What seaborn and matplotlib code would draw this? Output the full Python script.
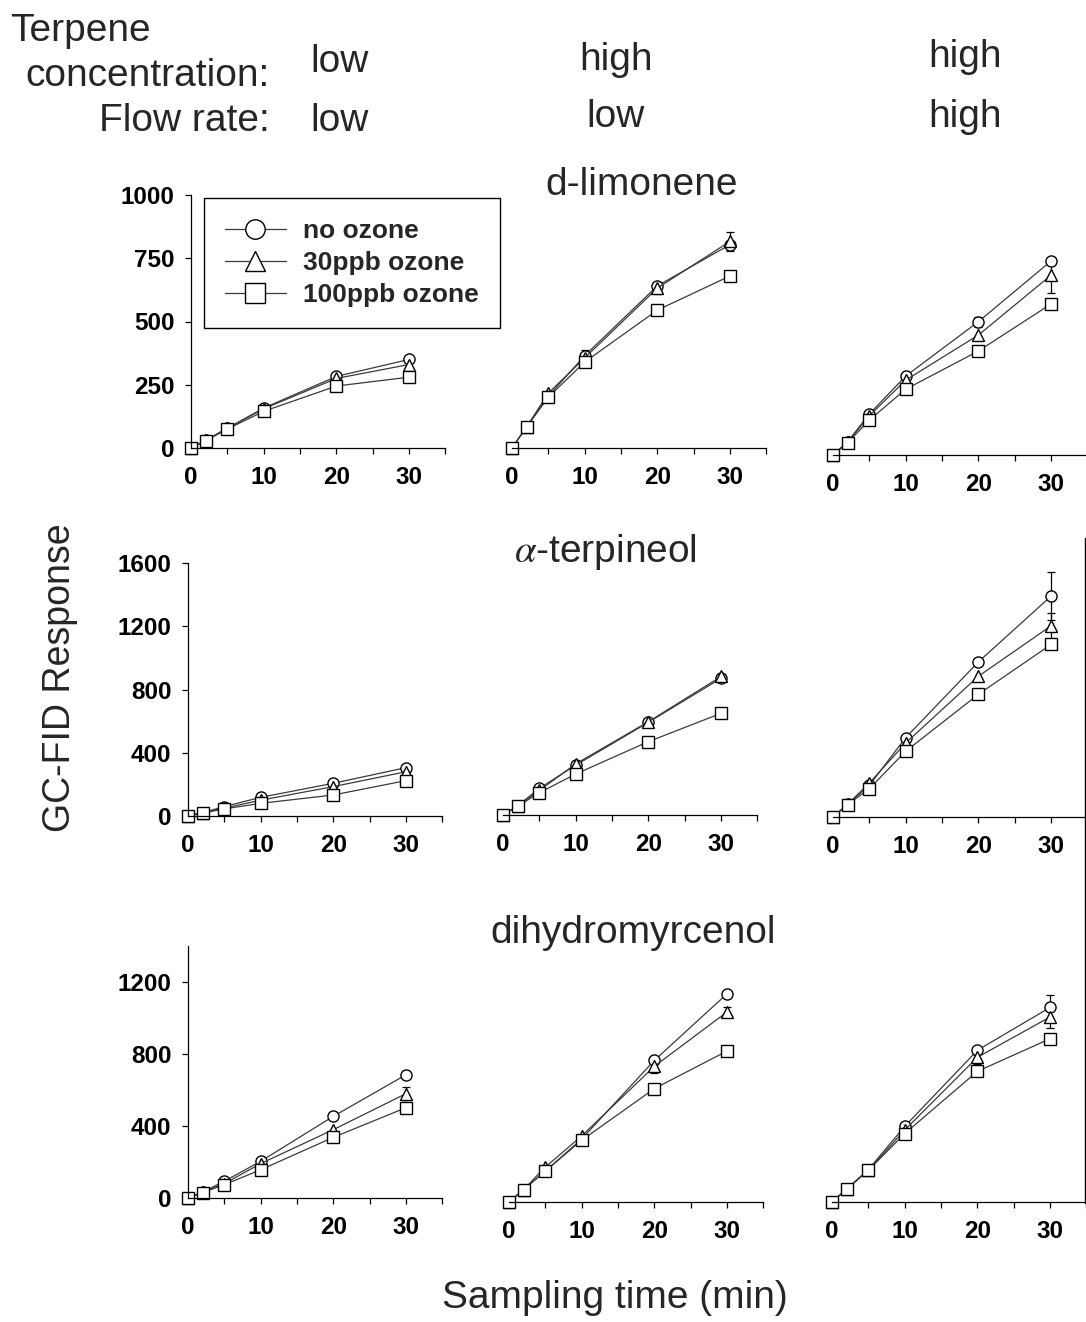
import matplotlib
matplotlib.use("Agg")
import matplotlib.pyplot as plt
from matplotlib.lines import Line2D
import pandas as pd
import seaborn as sns

# values
times = [0, 2, 5, 10, 20, 30]
series = ["no ozone", "30ppb ozone", "100ppb ozone"]
compounds = ["d-limonene", "alpha-terpineol", "dihydromyrcenol"]
conc_levels = ["low", "high", "high"]
flow_levels = ["low", "low", "high"]

# one list per condition column (low/low, high/low, high/high)
lim_none = [[0, 30, 78, 158, 283, 350], [0, 83, 205, 365, 641, 804], [0, 52, 162, 312, 527, 767]]
lim_30 = [[0, 30, 78, 155, 275, 330], [0, 83, 217, 356, 632, 817], [0, 50, 155, 296, 474, 711]]
lim_100 = [[0, 28, 75, 145, 245, 280], [0, 83, 201, 340, 545, 680], [0, 48, 138, 260, 411, 597]]

ter_none = [[0, 21, 60, 118, 207, 306], [0, 57, 169, 315, 586, 865], [0, 80, 200, 502, 981, 1397]]
ter_30 = [[0, 21, 50, 100, 186, 280], [0, 57, 155, 323, 590, 876], [0, 80, 215, 468, 890, 1209]]
ter_100 = [[0, 18, 45, 80, 133, 224], [0, 55, 141, 259, 464, 643], [0, 78, 179, 416, 776, 1091]]

dih_none = [[0, 33, 93, 204, 454, 685], [0, 69, 172, 350, 787, 1157], [0, 72, 180, 420, 843, 1081]]
dih_30 = [[0, 33, 80, 191, 380, 580], [0, 69, 194, 367, 754, 1056], [0, 72, 176, 400, 804, 1028]]
dih_100 = [[0, 30, 74, 157, 337, 502], [0, 69, 172, 343, 630, 839], [0, 70, 176, 380, 726, 907]]

# visible error bars: (compound, column, series, time, +/-)
error_bars = [
    ("d-limonene", 1, "30ppb ozone", 10, 30),
    ("d-limonene", 1, "30ppb ozone", 20, 25),
    ("d-limonene", 1, "30ppb ozone", 30, 38),
    ("d-limonene", 2, "no ozone", 20, 20),
    ("d-limonene", 2, "no ozone", 30, 10),
    ("d-limonene", 2, "30ppb ozone", 30, 72),
    ("alpha-terpineol", 1, "30ppb ozone", 30, 15),
    ("alpha-terpineol", 2, "no ozone", 30, 150),
    ("alpha-terpineol", 2, "30ppb ozone", 30, 84),
    ("dihydromyrcenol", 0, "30ppb ozone", 30, 35),
    ("dihydromyrcenol", 1, "30ppb ozone", 20, 40),
    ("dihydromyrcenol", 1, "30ppb ozone", 30, 30),
    ("dihydromyrcenol", 2, "no ozone", 30, 70),
    ("dihydromyrcenol", 2, "30ppb ozone", 20, 40),
    ("dihydromyrcenol", 2, "30ppb ozone", 30, 60),
]

rows = []
for comp, arrs in zip(compounds, [(lim_none, lim_30, lim_100),
                                  (ter_none, ter_30, ter_100),
                                  (dih_none, dih_30, dih_100)]):
    for s, arr in zip(series, arrs):
        for col, vals in enumerate(arr):
            for t, v in zip(times, vals):
                rows.append(dict(compound=comp, col=col, series=s, time=t, response=v))
df = pd.DataFrame(rows)

sns.set_style("ticks")
plt.rcParams['font.family'] = ['Liberation Sans', 'DejaVu Sans']
plt.rcParams['mathtext.fontset'] = 'stix'

W, H = 1086, 1322
fig = plt.figure(figsize=(W / 100, H / 100), dpi=100)

def fx(x):
    return x / W

def fy(y):
    return 1 - y / H

# axes positions in pixels: (x of t=0, y of 0, y of ymax)
layout = {
    "d-limonene": [(191, 448, 195), (512, 448, 195), (833, 455, 202)],
    "alpha-terpineol": [(188, 816, 563), (503, 815, 562), (833, 817, 564)],
    "dihydromyrcenol": [(188, 1198, 946), (509, 1202, 950), (832, 1202, 950)],
}
ymax = {"d-limonene": 1000, "alpha-terpineol": 1600, "dihydromyrcenol": 1400}
yticks = {"d-limonene": [0, 250, 500, 750, 1000],
          "alpha-terpineol": [0, 400, 800, 1200, 1600],
          "dihydromyrcenol": [0, 400, 800, 1200]}
markers = {"no ozone": "o", "30ppb ozone": "^", "100ppb ozone": "s"}
xw = 35 * 7.27

axes = {}
for comp in compounds:
    for col, (x0, y0, yt) in enumerate(layout[comp]):
        ax = fig.add_axes([fx(x0), fy(y0), xw / W, (y0 - yt) / H])
        sub = df[(df.compound == comp) & (df.col == col)]
        sns.lineplot(data=sub, x="time", y="response", hue="series", style="series",
                     hue_order=series, style_order=series, markers=markers, dashes=False,
                     palette=["#3a3a3a"] * 3, errorbar=None, legend=False, ax=ax,
                     lw=0.9, markersize=8, markerfacecolor="white",
                     markeredgecolor="black", markeredgewidth=1.0, clip_on=False)
        for c, k, s, t, e in error_bars:
            if c == comp and k == col:
                yv = sub[(sub.series == s) & (sub.time == t)].response.iloc[0]
                ax.errorbar([t], [yv], yerr=[e], fmt="none", ecolor="black",
                            elinewidth=0.9, capsize=3, capthick=0.9, zorder=1.5, clip_on=False)
        ax.set_xlim(0, 35)
        ax.set_ylim(0, ymax[comp])
        ax.set_xlabel("")
        ax.set_ylabel("")
        ax.set_xticks(range(0, 36, 5), labels=["0", "", "10", "", "20", "", "30", ""])
        ax.tick_params(axis="both", direction="out", length=4, width=0.9, color="black",
                       labelsize=17.5, labelcolor="black")
        ax.tick_params(axis="x", pad=9)
        ax.tick_params(axis="y", pad=8)
        sns.despine(ax=ax, left=(col > 0))
        for sp in ax.spines.values():
            sp.set_color("black")
            sp.set_linewidth(0.9)
        if col == 0:
            ax.set_yticks(yticks[comp], labels=[str(v) for v in yticks[comp]])
        else:
            ax.set_yticks([])
        for lbl in ax.get_xticklabels() + ax.get_yticklabels():
            lbl.set_fontweight("bold")
        ax.patch.set_alpha(0)
        axes[(comp, col)] = ax

# legend in the top-left panel
handles = [Line2D([], [], color="#3a3a3a", lw=0.9, marker=markers[s], markersize=14,
                  markerfacecolor="white", markeredgecolor="black", markeredgewidth=1.0)
           for s in series]
leg = axes[("d-limonene", 0)].legend(handles, series, loc="upper left",
                                     bbox_to_anchor=(fx(204), fy(198)),
                                     bbox_transform=fig.transFigure, borderaxespad=0,
                                     fancybox=False, frameon=True, edgecolor="black",
                                     handlelength=2.3, handletextpad=0.65, labelspacing=0.3,
                                     borderpad=0.8, prop={"size": 19, "weight": "bold"})
leg.get_frame().set_linewidth(1.0)
leg.get_frame().set_alpha(1)

# compound titles
fig.text(fx(642), fy(185), "d-limonene", fontsize=28, ha="center", va="center")
fig.text(fx(605), fy(552), r"$\alpha$-terpineol", fontsize=28, ha="center", va="center")
fig.text(fx(633), fy(933), "dihydromyrcenol", fontsize=28, ha="center", va="center")

# condition header
fig.text(fx(10), fy(31), "Terpene", fontsize=28, ha="left", va="center")
fig.text(fx(270), fy(76), "concentration:", fontsize=28, ha="right", va="center")
fig.text(fx(270), fy(121), "Flow rate:", fontsize=28, ha="right", va="center")
for xc, yc, yf, c, f in zip([340, 616, 965], [62, 60, 57], [121, 117, 117],
                            conc_levels, flow_levels):
    fig.text(fx(xc), fy(yc), c, fontsize=28, ha="center", va="center")
    fig.text(fx(xc), fy(yf), f, fontsize=28, ha="center", va="center")

fig.text(fx(60), fy(678), "GC-FID Response", fontsize=27, rotation=90, ha="center", va="center")
fig.text(fx(615), fy(1298), "Sampling time (min)", fontsize=28, ha="center", va="center")

# edge of a neighbouring panel cut off at the right border
fig.add_artist(Line2D([fx(1084.5), fx(1084.5)], [fy(538), fy(1203)], color="black", lw=1.0))

fig.savefig("out.png", dpi=100)
